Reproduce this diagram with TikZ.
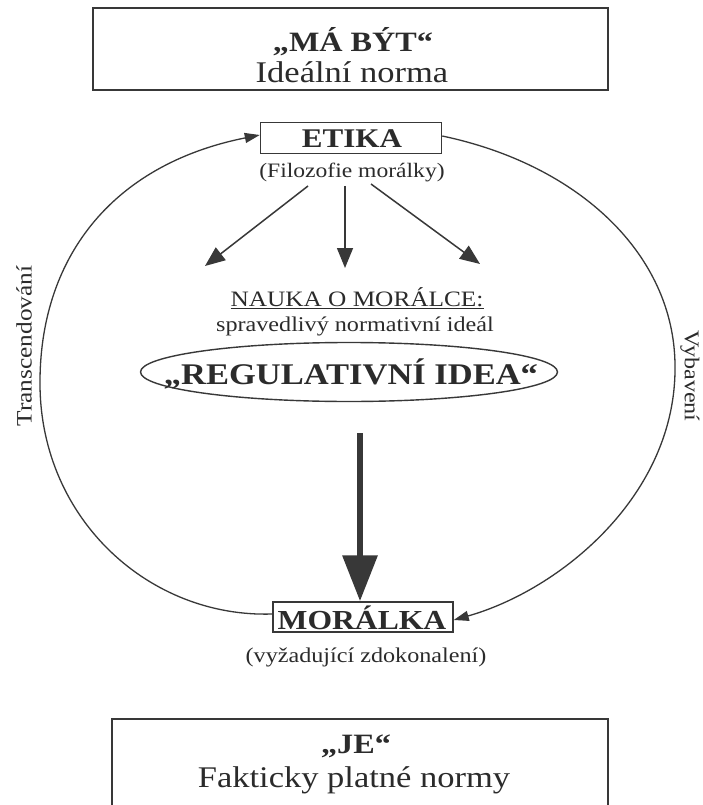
\documentclass[tikz,border=0pt]{standalone}
\usepackage{fontspec}
\setmainfont{Liberation Serif}[FakeStretch=1.15]
\usetikzlibrary{arrows.meta,shapes.geometric}
\definecolor{ink}{HTML}{2B2B2B}
\definecolor{linec}{HTML}{383838}
\tikzset{
  boxed/.style={draw=linec, line width=1.5pt, inner sep=0pt},
  txt/.style={text=ink, inner sep=0pt, font=\fontsize{#1}{#1}\selectfont},
  btxt/.style={text=ink, inner sep=0pt, font=\fontsize{#1}{#1}\selectfont\bfseries},
  thin arrow/.style={draw=linec, line width=1.5pt, -{Triangle[length=20pt,width=16pt]}},
  arc arrow/.style={draw=linec, line width=1.3pt, -{Triangle[length=15pt,width=10pt]}},
  big arrow/.style={draw=linec, line width=6.5pt, -{Triangle[length=46pt,width=34pt]}},
}
\begin{document}
\begin{tikzpicture}[x=1pt,y=-1pt]
\useasboundingbox (0,0) rectangle (702,805);
\fill[white] (0,0) rectangle (702,805);
\clip (0,0) rectangle (702,805);

% top box
\node[boxed, minimum width=515pt, minimum height=82pt] (topbox) at (350.5,49) {};
\node[btxt=28] (mabyt) at (353,42) {„MÁ BÝT“};
\node[txt=30] (idealni) at (352,72) {Ideální norma};

% ETIKA
\node[boxed, minimum width=181pt, minimum height=31pt] (etika) at (351,138) {};
\node[btxt=27] (etikat) at (352,139) {ETIKA};
\node[txt=20.5] (filo) at (352,172) {(Filozofie morálky)};

\coordinate (a1s) at (308,186);
\coordinate (a1e) at (205,266);
\coordinate (a2s) at (345,186);
\coordinate (a2e) at (345,268);
\coordinate (a3s) at (371,184);
\coordinate (a3e) at (480,264);
\draw[thin arrow] (a1s) -- (a1e);
\draw[thin arrow] (a2s) -- (a2e);
\draw[thin arrow] (a3s) -- (a3e);

% Nauka
\node[txt=22] (nauka) at (357,298) {\underline{NAUKA O MORÁLCE:}};
\node[txt=21] (sprav) at (355,326) {spravedlivý normativní ideál};

% ellipse
\node[ellipse, draw=linec, line width=1.4pt, minimum width=417pt, minimum height=59pt, inner sep=0pt] (ideaell) at (349,372) {};
\node[btxt=30] (idea) at (351,374) {„REGULATIVNÍ IDEA“};

% MORALKA
\node[boxed, minimum width=180pt, minimum height=30pt] (moralka) at (363,617) {};
\node[btxt=27.5] (moralkat) at (362,618) {MORÁLKA};
\node[txt=21] (vyzad) at (366,657) {(vyžadující zdokonalení)};

% big arrow
\coordinate (bigs) at (360,433);
\draw[big arrow] (bigs) -- (moralka.north -| bigs);

% left arc (Transcendovani)
\coordinate (lmid) at (40,385);
\draw[arc arrow] ([yshift=3pt]moralka.west) .. controls (150,618) and (41,520) .. (lmid)
   .. controls (39,260) and (110,165) .. ([yshift=3pt]etika.west);
% right arc (Vybaveni)
\coordinate (rmid) at (675,365);
\draw[arc arrow] ([yshift=2pt]etika.east) .. controls (580,165) and (674,255) .. (rmid)
   .. controls (677,495) and (560,590) .. ([yshift=-3pt]moralka.east);

\node[txt=22, rotate=90] (trans) at (24,346) {Transcendování};
\node[txt=21, rotate=-90] (vybav) at (690,376) {Vybavení};

% bottom box (cut by page edge)
\node[boxed, minimum width=496pt, minimum height=140pt, anchor=north] (bottombox) at (360,718) {};
\node[btxt=28] (je) at (356,746) {„JE“};
\node[txt=30] (fakt) at (354,780) {Fakticky platné normy};
\end{tikzpicture}
\end{document}
